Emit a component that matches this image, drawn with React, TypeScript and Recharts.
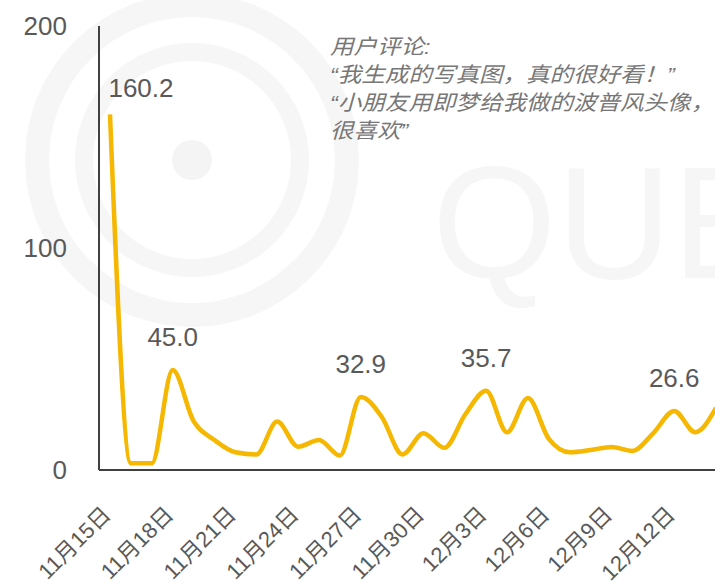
import React from 'react';
import { LineChart, Line, XAxis, YAxis, LabelList } from 'recharts';

const dates = [
  '11月15日', '11月16日', '11月17日', '11月18日', '11月19日', '11月20日', '11月21日', '11月22日',
  '11月23日', '11月24日', '11月25日', '11月26日', '11月27日', '11月28日', '11月29日', '11月30日',
  '12月1日', '12月2日', '12月3日', '12月4日', '12月5日', '12月6日', '12月7日', '12月8日',
  '12月9日', '12月10日', '12月11日', '12月12日', '12月13日', '12月14日',
];

const values = [
  160.2, 3, 3, 45.0, 22, 13.5, 8, 7, 21.8, 10.5, 13.5, 6.5, 32.9, 24, 7, 16.6,
  10, 25, 35.7, 17, 32.4, 14, 8, 9, 10.4, 8.6, 16.6, 26.6, 17, 28,
];

// points that get a value label
const labelIdx = [0, 3, 12, 18, 27];

const yTicks = [0, 100, 200];

const comment = [
  '用户评论:',
  '“我生成的写真图，真的很好看！”',
  '“小朋友用即梦给我做的波普风头像，',
  '很喜欢”',
];

const data = dates.map((d, i) => ({ date: d, value: values[i] }));

const FONT = 'Arial, "Liberation Sans", "Noto Sans CJK SC", sans-serif';

const DateTick = (props: any) => {
  const { x, y, payload } = props;
  const ax = x + 2;
  const ay = y + 38;
  return (
    <text
      x={ax}
      y={ay}
      transform={`rotate(-45 ${ax} ${ay})`}
      textAnchor="end"
      fill="#595959"
      fontSize={22}
      fontFamily={FONT}
    >
      {payload.value}
    </text>
  );
};

const ValueLabel = (props: any) => {
  const { x, y, value, index } = props;
  if (!labelIdx.includes(index)) return null;
  const dx = index === 0 ? 31 : 0;
  const dy = index === 0 ? -24 : -31;
  return (
    <text
      x={x + dx}
      y={y + dy}
      textAnchor="middle"
      dominantBaseline="middle"
      fill="#595959"
      fontSize={26}
      fontFamily={FONT}
    >
      {Number(value).toFixed(1)}
    </text>
  );
};

const Watermark = () => (
  <svg width={715} height={587} style={{ position: 'absolute', left: 0, top: 0 }}>
    <g fill="none" stroke="#f6f6f6">
      <circle cx={192} cy={160} r={155} strokeWidth={24} />
      <circle cx={192} cy={160} r={108} strokeWidth={18} />
    </g>
    <circle cx={192} cy={160} r={20} fill="#f4f4f4" />
    <text x={432} y={278} fontSize={160} fill="#f6f6f6" fontFamily={FONT}>
      QUE
    </text>
  </svg>
);

export default function App() {
  return (
    <div
      style={{
        position: 'fixed',
        left: 0,
        top: 0,
        width: 715,
        height: 587,
        overflow: 'hidden',
        background: '#fff',
      }}
    >
      <Watermark />
      <div
        style={{
          position: 'absolute',
          left: 330,
          top: 33,
          fontFamily: FONT,
          fontStyle: 'italic',
          fontSize: 21,
          lineHeight: '28px',
          color: '#777',
          whiteSpace: 'nowrap',
          transform: 'scaleX(1.12)',
          transformOrigin: 'left top',
        }}
      >
        {comment.map((c) => (
          <div key={c}>{c}</div>
        ))}
      </div>
      <div style={{ position: 'absolute', left: 0, top: 0 }}>
        <LineChart width={730} height={587} data={data} margin={{ top: 26, right: 14, bottom: 0, left: 0 }}>
          <XAxis
            dataKey="date"
            interval={2}
            height={117}
            padding={{ left: 11, right: 0 }}
            axisLine={{ stroke: '#404040', strokeWidth: 2 }}
            tickLine={false}
            tick={<DateTick />}
          />
          <YAxis
            width={99}
            domain={[0, 200]}
            ticks={yTicks}
            axisLine={{ stroke: '#404040', strokeWidth: 2 }}
            tickLine={false}
            tickSize={0}
            tickMargin={32}
            tick={{ fill: '#595959', fontSize: 26, fontFamily: FONT }}
          />
          <Line
            type="monotone"
            dataKey="value"
            stroke="#F5B700"
            strokeWidth={4.5}
            dot={false}
            isAnimationActive={false}
          >
            <LabelList dataKey="value" content={<ValueLabel />} />
          </Line>
        </LineChart>
      </div>
    </div>
  );
}
